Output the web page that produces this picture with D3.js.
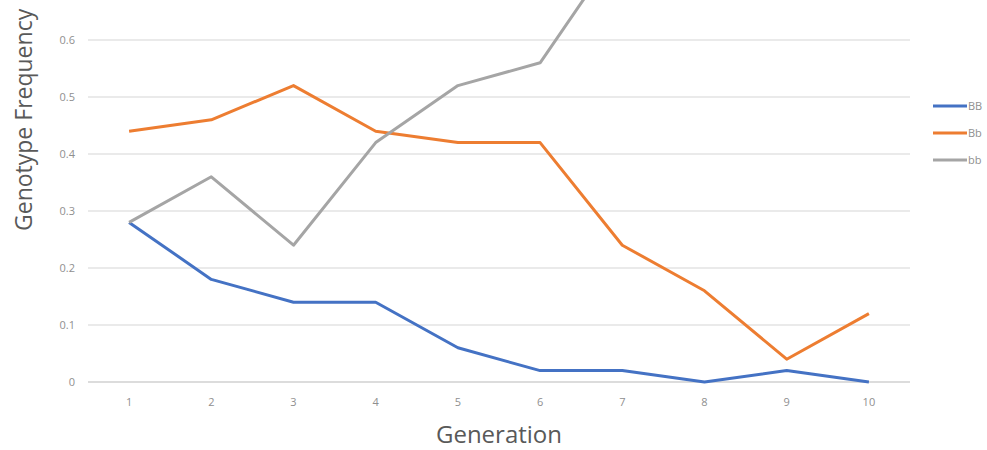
<!DOCTYPE html>
<html><head><meta charset="utf-8">
<script src="https://cdn.jsdelivr.net/npm/d3@7"></script>
<style>html,body{margin:0;padding:0;background:#fff;}svg{display:block;}</style>
</head><body>
<script>
const generations = ["1","2","3","4","5","6","7","8","9","10"];
const BB = [0.28,0.18,0.14,0.14,0.06,0.02,0.02,0,0.02,0];
const Bb = [0.44,0.46,0.52,0.44,0.42,0.42,0.24,0.16,0.04,0.12];
const bb = [0.28,0.36,0.24,0.42,0.52,0.56,0.77,0.84,0.94,0.88];
const seriesNames = ["BB","Bb","bb"];
const yTicks = [0,0.1,0.2,0.3,0.4,0.5,0.6];
const colors = ["#4472C4","#ED7D31","#A5A5A5"];

const W=987,H=450;
const svg=d3.select("body").append("svg").attr("width",W).attr("height",H);
const x=d3.scaleBand().domain(generations).range([88,910]);
const y=d3.scaleLinear().domain([0,0.6]).range([382,40]);
const font="'Open Sans', sans-serif";

// gridlines
svg.append("g").selectAll("line").data(yTicks).join("line")
  .attr("x1",88).attr("x2",910).attr("y1",d=>y(d)).attr("y2",d=>y(d))
  .attr("stroke",d=>d===0?"#d0d0d0":"#e3e3e3").attr("stroke-width",1.3);

// y tick labels
svg.append("g").selectAll("text").data(yTicks).join("text")
  .attr("x",75).attr("y",d=>y(d)).attr("dy","0.35em").attr("text-anchor","end")
  .attr("font-family",font).attr("font-size",11).attr("fill","#8f8f8f")
  .text(d=>d3.format("")(d));

// x tick labels
svg.append("g").selectAll("text").data(generations).join("text")
  .attr("x",d=>x(d)+x.bandwidth()/2).attr("y",402).attr("dy","0.35em").attr("text-anchor","middle")
  .attr("font-family",font).attr("font-size",11).attr("fill","#8f8f8f")
  .text(d=>d);

// axis titles
svg.append("text").attr("x",499).attr("y",443).attr("text-anchor","middle")
  .attr("font-family",font).attr("font-size",24).attr("fill","#595959").text("Generation");
svg.append("text").attr("transform","translate(32,231) rotate(-90)").attr("text-anchor","start")
  .attr("font-family",font).attr("font-size",23).attr("fill","#595959").text("Genotype Frequency");

// lines
const data=[BB,Bb,bb];
const line=d3.line().x((d,i)=>x(generations[i])+x.bandwidth()/2).y(d=>y(d));
svg.append("g").selectAll("path").data(data).join("path")
  .attr("d",d=>line(d)).attr("fill","none")
  .attr("stroke",(d,i)=>colors[i]).attr("stroke-width",3).attr("stroke-linejoin","round");

// legend
const lg=svg.append("g").selectAll("g").data(seriesNames).join("g")
  .attr("transform",(d,i)=>`translate(933,${106+i*27})`);
lg.append("line").attr("x1",0).attr("x2",34).attr("stroke",(d,i)=>colors[i]).attr("stroke-width",3);
lg.append("text").attr("x",35).attr("dy","0.35em").attr("font-family",font).attr("font-size",11)
  .attr("fill","#8f8f8f").text(d=>d);
</script>
</body></html>
